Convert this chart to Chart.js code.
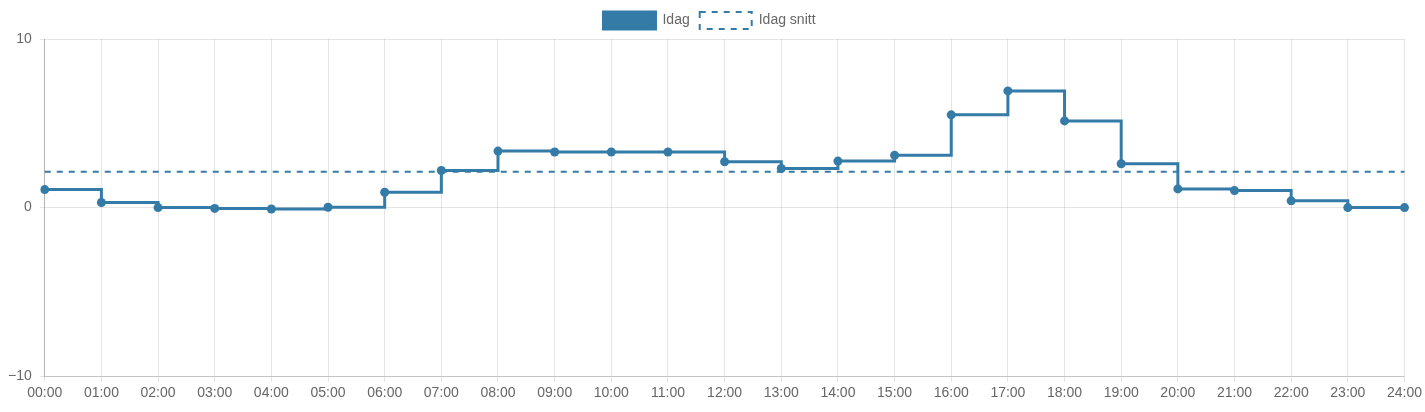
<!DOCTYPE html>
<html lang="sv">
<head>
    <meta charset="UTF-8">
    <title>Idag</title>
    <script src="https://cdn.jsdelivr.net/npm/chart.js"></script>
    <style>
        html, body { margin: 0; padding: 0; background: #fff; }
        .chart-container { width: 1425px; height: 412px; }
    </style>
</head>
<body>
    <div class="chart-container">
        <canvas id="grafIdag"></canvas>
    </div>

    <script>
        // timmar 00:00 - 24:00
        const labels = ['00:00', '01:00', '02:00', '03:00', '04:00', '05:00', '06:00', '07:00', '08:00',
            '09:00', '10:00', '11:00', '12:00', '13:00', '14:00', '15:00', '16:00', '17:00', '18:00',
            '19:00', '20:00', '21:00', '22:00', '23:00', '24:00'];

        const idag = [1.07, 0.3, 0.0, -0.05, -0.08, 0.02, 0.91, 2.2, 3.35, 3.3, 3.3, 3.3, 2.72,
            2.32, 2.76, 3.1, 5.5, 6.92, 5.14, 2.6, 1.11, 1.01, 0.4, 0.0, 0.0];

        const idagSnitt = [2.12, 2.12, 2.12, 2.12, 2.12, 2.12, 2.12, 2.12, 2.12, 2.12, 2.12, 2.12, 2.12,
            2.12, 2.12, 2.12, 2.12, 2.12, 2.12, 2.12, 2.12, 2.12, 2.12, 2.12, 2.12];

        const yTicks = [-10, 0, 10];

        const blue = 'rgb(53, 123, 167)';
        const typsnitt = { family: 'Liberation Sans, Arial, sans-serif', size: 14 };

        new Chart(document.getElementById('grafIdag'), {
            type: 'line',
            data: {
                labels: labels,
                datasets: [
                    {
                        label: 'Idag',
                        data: idag,
                        borderColor: blue,
                        backgroundColor: blue,
                        borderWidth: 3,
                        stepped: true,
                        fill: false,
                        pointRadius: 4.5,
                        pointBackgroundColor: blue,
                        pointBorderWidth: 0,
                    },
                    {
                        label: 'Idag snitt',
                        data: idagSnitt,
                        borderColor: blue,
                        backgroundColor: '#fff',
                        borderWidth: 2,
                        borderDash: [6, 6],
                        fill: false,
                        pointRadius: 0,
                    }
                ]
            },
            options: {
                responsive: true,
                maintainAspectRatio: false,
                animation: false,
                layout: { padding: { left: 0, right: 6, top: 2, bottom: 7 } },
                plugins: {
                    legend: {
                        labels: {
                            boxWidth: 52,
                            boxHeight: 17,
                            color: '#666',
                            font: typsnitt
                        }
                    },
                    tooltip: { enabled: false }
                },
                scales: {
                    x: {
                        grid: { color: 'rgba(0,0,0,0.1)', tickLength: 6 },
                        border: { color: 'rgba(0,0,0,0.15)' },
                        ticks: {
                            color: '#666',
                            maxRotation: 0,
                            autoSkip: false,
                            font: typsnitt
                        }
                    },
                    y: {
                        min: yTicks[0],
                        max: yTicks[2],
                        afterBuildTicks: (axis) => { axis.ticks = yTicks.map(v => ({ value: v })); },
                        grid: { color: 'rgba(0,0,0,0.1)', tickLength: 5 },
                        border: { color: 'rgba(0,0,0,0.22)' },
                        ticks: {
                            color: '#666',
                            padding: 8,
                            font: typsnitt,
                            callback: (v) => String(v).replace('-', '\u2212')
                        }
                    }
                }
            }
        });
    </script>
</body>
</html>
